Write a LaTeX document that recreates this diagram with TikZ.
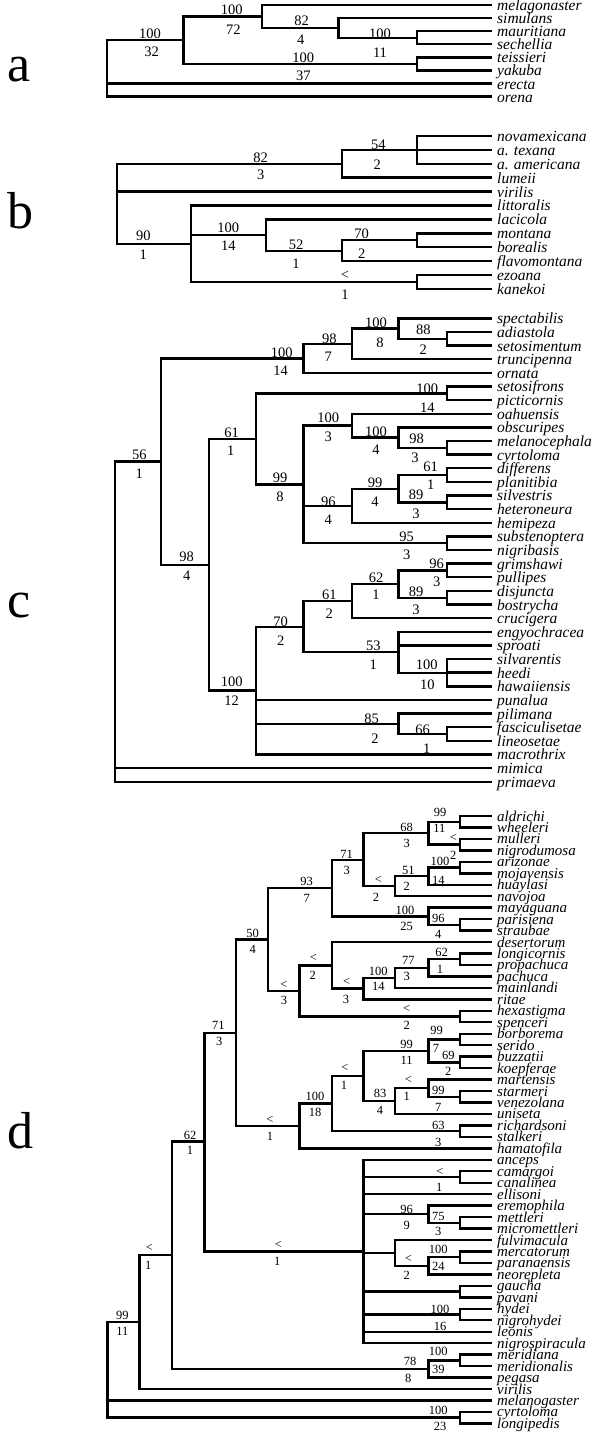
\documentclass[tikz,border=0pt]{standalone}
\usepackage{fontspec}
\setmainfont{Liberation Serif}
\begin{document}
\begin{tikzpicture}[x=1pt,y=-1pt,
  br/.style={line width=2.4pt, line join=miter},
  leaf/.style={anchor=base west, inner sep=0pt, font=\fontsize{15.5}{16}\selectfont\itshape},
  leafd/.style={anchor=base west, inner sep=0pt, font=\fontsize{15}{15}\selectfont\itshape},
  num/.style={inner sep=0pt, font=\fontsize{14.5}{15}\selectfont},
  numd/.style={inner sep=0pt, font=\fontsize{12.5}{13}\selectfont},
  panel/.style={anchor=base west, inner sep=0pt, font=\fontsize{52}{52}\selectfont}]
\fill[white] (0,0) rectangle (600,1434);
\useasboundingbox (0,0) rectangle (600,1434);

% panel letters
\node[panel] (pa) at (7,82) {a};
\node[panel] (pb) at (7,228) {b};
\node[panel] (pc) at (7,617) {c};
\node[panel] (pd) at (7,1148) {d};

% ---------- leaves ----------
\foreach \t [count=\i from 0] in {melagonaster,simulans,mauritiana,sechellia,teissieri,yakuba,erecta,orena}{
  \coordinate (a\i) at (492,{5+13.1*\i});
  \node[leaf] (ta\i) at (497,{5+13.1*\i+5.5}) {\t};
}
\foreach \t [count=\i from 0] in {novamexicana,a. texana,a. americana,lumeii,virilis,littoralis,lacicola,montana,borealis,flavomontana,ezoana,kanekoi}{
  \coordinate (b\i) at (492,{136+13.9*\i});
  \node[leaf] (tb\i) at (497,{136+13.9*\i+5.5}) {\t};
}
\foreach \t [count=\i from 0] in {spectabilis,adiastola,setosimentum,truncipenna,ornata,setosifrons,picticornis,oahuensis,obscuripes,melanocephala,cyrtoloma,differens,planitibia,silvestris,heteroneura,hemipeza,substenoptera,nigribasis,grimshawi,pullipes,disjuncta,bostrycha,crucigera,engyochracea,sproati,silvarentis,heedi,hawaiiensis,punalua,pilimana,fasciculisetae,lineosetae,macrothrix,mimica,primaeva}{
  \coordinate (c\i) at (492,{318.3+13.63*\i});
  \node[leaf] (tc\i) at (497,{318.3+13.63*\i+5.5}) {\t};
}
\foreach \t [count=\i from 0] in {aldrichi,wheeleri,mulleri,nigrodumosa,arizonae,mojavensis,huaylasi,navojoa,mayaguana,parisiena,straubae,desertorum,longicornis,propachuca,pachuca,mainlandi,ritae,hexastigma,spenceri,borborema,serido,buzzatii,koepferae,martensis,starmeri,venezolana,uniseta,richardsoni,stalkeri,hamatofila,anceps,camargoi,canalinea,ellisoni,eremophila,mettleri,micromettleri,fulvimacula,mercatorum,paranaensis,neorepleta,gaucha,pavani,hydei,nigrohydei,leonis,nigrospiracula,meridiana,meridionalis,pegasa,virilis,melanogaster,cyrtoloma,longipedis}{
  \coordinate (d\i) at (492,{816+11.46*\i});
  \node[leafd] (td\i) at (497,{816+11.46*\i+5}) {\t};
}

% ---------- internal nodes ----------
% a
\coordinate (aMS) at (416.7,37.75);
\coordinate (aTY) at (416.7,63.95);
\coordinate (an82) at (338.3,27.9);
\coordinate (an100) at (261.7,16.45);
\coordinate (an10032) at (183.3,40.2);
\coordinate (aRoot) at (106.7,68.45);
% b
\coordinate (bn54) at (416.7,149.9);
\coordinate (bn82) at (341.7,163.8);
\coordinate (bn70) at (416.7,240.25);
\coordinate (bn52) at (341.7,250.7);
\coordinate (bn100) at (265.7,235.05);
\coordinate (bEK) at (416.7,281.95);
\coordinate (bn90) at (191,243.7);
\coordinate (bRoot) at (116.7,203.75);
% c
\coordinate (cn88) at (446.7,338.75);
\coordinate (cn100a) at (398.3,328.5);
\coordinate (cn98) at (351.7,343.85);
\coordinate (cn100b) at (303.3,358.3);
\coordinate (cnSP) at (446.7,393.3);
\coordinate (cn98b) at (446.7,447.8);
\coordinate (cn100d) at (398.3,437.55);
\coordinate (cn100c) at (351.7,425.6);
\coordinate (cn61b) at (446.7,475.05);
\coordinate (cn89) at (446.7,502.3);
\coordinate (cn99b) at (398.3,488.7);
\coordinate (cn96) at (351.7,505.75);
\coordinate (cnSN) at (446.7,543.2);
\coordinate (cn99) at (303.3,484.4);
\coordinate (cn61) at (255.7,438.85);
\coordinate (cn96b) at (446.7,570.45);
\coordinate (cn89b) at (446.7,597.7);
\coordinate (cn62) at (398.3,584.1);
\coordinate (cn61c) at (351.7,601.15);
\coordinate (cn100f) at (446.7,672.7);
\coordinate (cn53) at (398.3,652.25);
\coordinate (cn70) at (303.3,626.7);
\coordinate (cn66) at (446.7,734);
\coordinate (cn85) at (398.3,723.8);
\coordinate (cn100e) at (255.7,690.6);
\coordinate (cn98c) at (209,564.7);
\coordinate (cn56) at (161,461.5);
\coordinate (cRoot) at (115,621.6);
% d
\coordinate (dA) at (460,821.75);
\coordinate (dB) at (460,844.65);
\coordinate (dC) at (428.3,833.2);
\coordinate (dD) at (460,867.55);
\coordinate (dE) at (428.3,876.2);
\coordinate (dF) at (395,886.2);
\coordinate (dG) at (363.3,859.7);
\coordinate (dH) at (460,924.85);
\coordinate (dI) at (428.3,916.3);
\coordinate (dJ) at (331.7,888);
\coordinate (dL) at (460,959.25);
\coordinate (dM) at (428.3,967.8);
\coordinate (dN) at (395,977.85);
\coordinate (dO) at (363.3,988.6);
\coordinate (dK) at (331.7,965.35);
\coordinate (dP) at (460,1016.55);
\coordinate (dQ) at (299.3,990.95);
\coordinate (dR) at (267.7,939.5);
\coordinate (dBS) at (460,1039.45);
\coordinate (dBK) at (460,1062.4);
\coordinate (dBB) at (428.3,1050.9);
\coordinate (dSV) at (460,1096.75);
\coordinate (dMS) at (428.3,1088.2);
\coordinate (dMU) at (395,1101.1);
\coordinate (dn83) at (363.3,1076);
\coordinate (dRS) at (460,1131.15);
\coordinate (dn331) at (331.7,1103.6);
\coordinate (dn100) at (299.3,1125.95);
\coordinate (dS) at (235.7,1032.7);
\coordinate (dCC) at (460,1177);
\coordinate (dMM) at (460,1222.85);
\coordinate (dEM) at (428.3,1214.2);
\coordinate (dMP) at (460,1257.2);
\coordinate (dMN) at (428.3,1265.8);
\coordinate (dFM) at (395,1252.9);
\coordinate (dGP) at (460,1291.6);
\coordinate (dHN) at (460,1314.5);
\coordinate (dV) at (363.3,1251.5);
\coordinate (dU) at (204.3,1141.35);
\coordinate (dMPb) at (460,1360.35);
\coordinate (dMPP) at (428.3,1368.9);
\coordinate (dW) at (171.7,1255.1);
\coordinate (dX) at (139.3,1322);
\coordinate (dCL) at (460,1417.65);
\coordinate (dRoot) at (107.3,1369.8);

% ---------- branches ----------
\foreach \p/\c in {aMS/a2,aMS/a3,aTY/a4,aTY/a5,an82/a1,an82/aMS,an100/a0,an100/an82,an10032/an100,an10032/aTY,aRoot/an10032,aRoot/a6,aRoot/a7,
  bn54/b0,bn54/b1,bn54/b2,bn82/bn54,bn82/b3,bn70/b7,bn70/b8,bn52/bn70,bn52/b9,bn100/b6,bn100/bn52,bEK/b10,bEK/b11,bn90/b5,bn90/bn100,bn90/bEK,bRoot/bn82,bRoot/b4,bRoot/bn90,
  cn88/c1,cn88/c2,cn100a/c0,cn100a/cn88,cn98/cn100a,cn98/c3,cn100b/cn98,cn100b/c4,cnSP/c5,cnSP/c6,cn98b/c9,cn98b/c10,cn100d/c8,cn100d/cn98b,cn100c/c7,cn100c/cn100d,cn61b/c11,cn61b/c12,cn89/c13,cn89/c14,cn99b/cn61b,cn99b/cn89,cn96/cn99b,cn96/c15,cnSN/c16,cnSN/c17,cn99/cn100c,cn99/cn96,cn99/cnSN,cn61/cnSP,cn61/cn99,cn96b/c18,cn96b/c19,cn89b/c20,cn89b/c21,cn62/cn96b,cn62/cn89b,cn61c/cn62,cn61c/c22,cn100f/c25,cn100f/c26,cn100f/c27,cn53/c23,cn53/c24,cn53/cn100f,cn70/cn61c,cn70/cn53,cn66/c30,cn66/c31,cn85/c29,cn85/cn66,cn100e/cn70,cn100e/c28,cn100e/cn85,cn100e/c32,cn98c/cn61,cn98c/cn100e,cn56/cn100b,cn56/cn98c,cRoot/cn56,cRoot/c33,cRoot/c34,
  dA/d0,dA/d1,dB/d2,dB/d3,dC/dA,dC/dB,dD/d4,dD/d5,dE/dD,dE/d6,dF/dE,dF/d7,dG/dC,dG/dF,dH/d9,dH/d10,dI/d8,dI/dH,dJ/dG,dJ/dI,dL/d12,dL/d13,dM/dL,dM/d14,dN/dM,dN/d15,dO/dN,dO/d16,dK/d11,dK/dO,dP/d17,dP/d18,dQ/dK,dQ/dP,dR/dJ,dR/dQ,dBS/d19,dBS/d20,dBK/d21,dBK/d22,dBB/dBS,dBB/dBK,dSV/d24,dSV/d25,dMS/d23,dMS/dSV,dMU/dMS,dMU/d26,dn83/dBB,dn83/dMU,dRS/d27,dRS/d28,dn331/dn83,dn331/dRS,dn100/dn331,dn100/d29,dS/dR,dS/dn100,dCC/d31,dCC/d32,dMM/d35,dMM/d36,dEM/d34,dEM/dMM,dMP/d38,dMP/d39,dMN/dMP,dMN/d40,dFM/d37,dFM/dMN,dGP/d41,dGP/d42,dHN/d43,dHN/d44,dV/d30,dV/dCC,dV/d33,dV/dEM,dV/dFM,dV/dGP,dV/dHN,dV/d45,dV/d46,dU/dS,dU/dV,dMPb/d47,dMPb/d48,dMPP/dMPb,dMPP/d49,dW/dU,dW/dMPP,dX/dW,dX/d50,dCL/d52,dCL/d53,dRoot/dX,dRoot/d51,dRoot/dCL}
  \draw[br] (\p) |- (\c);

% ---------- support labels ----------
\foreach \x/\y/\t [count=\k] in {150/33.3/100,151.7/51.7/32,231.7/10/100,233.3/30/72,301.7/20.7/82,300.7/39.3/4,380/33.3/100,380/52.7/11,303.3/57.3/100,303.3/76/37,
  260.7/157.3/82,260.7/175/3,378.3/145/54,377.3/165/2,143.3/236/90,143.3/255/1,228.3/227.3/100,228.3/246/14,296/245/52,296/263.3/1,361.7/233.3/70,361.7/253.3/2,345/275/<,345/295/1,
  376/322.3/100,380/342.3/8,423.3/329.3/88,423.3/349.3/2,329.3/338.3/98,328.3/356.7/7,281.7/352.7/100,280.7/371/14,427.3/388.3/100,427.3/407.3/14,328.3/417.3/100,328.3/436.7/3,376/431.7/100,376/449.3/4,416.7/438.3/98,415/457.3/3,231.7/432.7/61,230.7/451/1,139.3/455/56,139.3/473.3/1,430.7/466.7/61,430.7/485/1,280/477.3/99,280/496.7/8,375/482.3/99,375/501.7/4,416/495/89,416/514/3,328.3/501.7/96,328.3/520/4,406.7/536.7/95,406.7/555/3,186.7/556.7/98,186.7/576/4,436.7/564/96,436.7/581.7/3,376/577.3/62,376/595/1,329.3/594.3/61,329.3/614/2,416/591.7/89,416/610/3,280.7/621.7/70,280.7/640.7/2,373.3/646/53,373.3/665/1,426.7/665/100,427.3/684.3/10,231.7/681.7/100,231.7/701/12,371.7/718.3/85,375/738.3/2,422.7/729.3/66,426.7/748.3/1}
  \node[num] (L\k) at (\x,\y) {\t};

\foreach \x/\y/\t [count=\k] in {440/812.7/99,439.3/828.3/11,453.3/838.3/<,453.3/855/2,440/861.7/100,438.3/880/14,408.3/870/51,406.7/886.7/2,378.3/880/<,376/897.3/2,406.7/827.3/68,406.7/843.3/3,438.3/918.3/96,438.3/934/4,346.7/854/71,346.7/870/3,405/910/100,406.7/926/25,306.7/881.7/93,306.7/898.3/7,441.7/952.7/62,440/969.3/1,408.3/960/77,406.7/976.7/3,378.3/971/100,378.3/986.7/14,346.7/981.7/<,346/999.3/3,406.7/1009.3/<,406.7/1025/2,313.3/958.3/<,312.7/975/2,284/985/<,284/1000.7/3,436.7/1030/99,436/1048.3/7,448.3/1055/69,448.3/1071.7/2,408.3/1080/<,406.7/1096/1,438.3/1090.7/99,438.3/1107.3/7,406.7/1044/99,406.7/1060.7/11,380/1093.3/83,380/1110/4,438.3/1125/63,438.3/1142.7/3,345/1068.3/<,344/1085/1,315/1096.7/100,315/1112.7/18,270/1120/<,270/1136.7/1,252.7/933.3/50,252.7/949.3/4,218.3/1025/71,219.3/1041.7/3,278.3/1245/<,277.3/1261.7/1,440/1171.7/<,439.3/1187.7/1,438.3/1216.7/75,438.3/1231.7/3,406.7/1209.3/96,406.7/1225/9,438.3/1249.3/100,438.3/1266/24,408.3/1259.3/<,406.7/1275/2,440/1309.3/100,440/1326/16,438.3/1351.7/100,438.3/1369.3/39,410/1361.7/78,408.3/1378.3/8,190/1135/62,190/1150.7/1,149.3/1248.3/<,148.3/1265/1,438.3/1410/100,440/1426/23,122.3/1315/99,122.3/1331.7/11}
  \node[numd] (M\k) at (\x,\y) {\t};
\end{tikzpicture}
\end{document}
